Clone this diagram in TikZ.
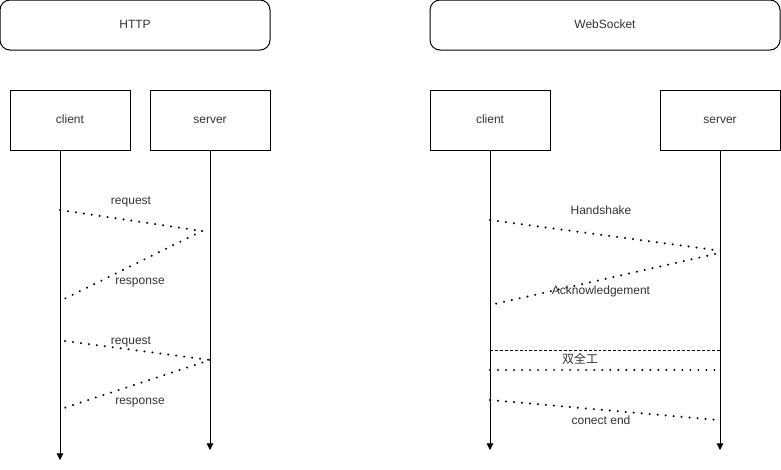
\documentclass[tikz,border=0pt]{standalone}
\usepackage{fontspec}
\setmainfont{Liberation Sans}
\newfontfamily\cjk{Noto Sans CJK SC}
\usetikzlibrary{arrows.meta}
\begin{document}
\begin{tikzpicture}[x=0.75pt,y=-0.75pt,
  font=\fontsize{9}{11}\selectfont,
  every node/.style={text=black!80},
  titlebox/.style={draw=black, text=black!80, rounded corners=7.5pt, line width=0.75pt, minimum width=270*0.75pt, minimum height=50*0.75pt, inner sep=0pt, text height=6.5pt, text depth=1.5pt},
  actor/.style={draw=black, text=black!80, line width=0.75pt, minimum width=120*0.75pt, minimum height=60*0.75pt, inner sep=0pt, text height=6.5pt, text depth=1.5pt},
  life/.style={draw=black, line width=0.75pt, -{Triangle[length=5pt,width=5pt]}},
  msg/.style={draw=black, line width=1.7pt, dash pattern=on 0.01pt off 6pt, line cap=round},
  sep/.style={draw=black, line width=0.6pt, dash pattern=on 2.2pt off 1.5pt},
  lbl/.style={inner sep=1pt, text height=6.5pt, text depth=1.5pt}
]
\useasboundingbox (0,0) rectangle (781,469);
% title boxes
\node[titlebox] (http) at (135,25) {HTTP};
\node[titlebox, minimum width=350*0.75pt] (ws) at (605,25) {WebSocket};
% actors
\node[actor] (hc) at (70,120) {client};
\node[actor] (hs) at (210,120) {server};
\node[actor] (wc) at (490,120) {client};
\node[actor] (wsv) at (720,120) {server};
% lifeline ends
\coordinate (hcEnd) at (60,460);
\coordinate (hsEnd) at (210,450);
\coordinate (wcEnd) at (490,450);
\coordinate (wsEnd) at (720,450);
\coordinate (hcTop) at (60,150);
\draw[life] (hcTop) -- (hcEnd);
\draw[life] (hs.south) -- (hsEnd);
\draw[life] (wc.south) -- (wcEnd);
\draw[life] (wsv.south) -- (wsEnd);
% HTTP messages
\coordinate (r1a) at (60,210);
\coordinate (r1b) at (202,231);
\coordinate (r1c) at (62,300);
\draw[msg] (r1a) -- (r1b);
\draw[msg] (r1b) -- (r1c);
\node[lbl] (req1) at (131,201) {request};
\node[lbl] (res1) at (140,281) {response};
\coordinate (r2a) at (65,341);
\coordinate (r2b) at (210,360);
\coordinate (r2c) at (64,408);
\draw[msg] (r2a) -- (r2b);
\draw[msg] (r2b) -- (r2c);
\node[lbl] (req2) at (131,341) {request};
\node[lbl] (res2) at (140,401) {response};
% WebSocket messages
\coordinate (w1a) at (490,220);
\coordinate (w1b) at (715,250);
\coordinate (w1c) at (715,254);
\coordinate (w1d) at (490,305);
\draw[msg] (w1a) -- (w1b);
\draw[msg] (w1c) -- (w1d);
\node[lbl] (hs1) at (601,211) {Handshake};
\node[lbl] (ack) at (601,291) {Acknowledgement};
\coordinate (d1a) at (490,350);
\coordinate (d1b) at (720,350);
\draw[sep] (d1a) -- (d1b);
\node[lbl] (dup) at (580,360) {\cjk 双全工};
\coordinate (w2a) at (490,370);
\coordinate (w2b) at (720,370);
\draw[msg] (w2a) -- (w2b);
\coordinate (w3a) at (490,400);
\coordinate (w3b) at (718,420);
\draw[msg] (w3a) -- (w3b);
\node[lbl] (end) at (601,421) {conect end};
\end{tikzpicture}
\end{document}
